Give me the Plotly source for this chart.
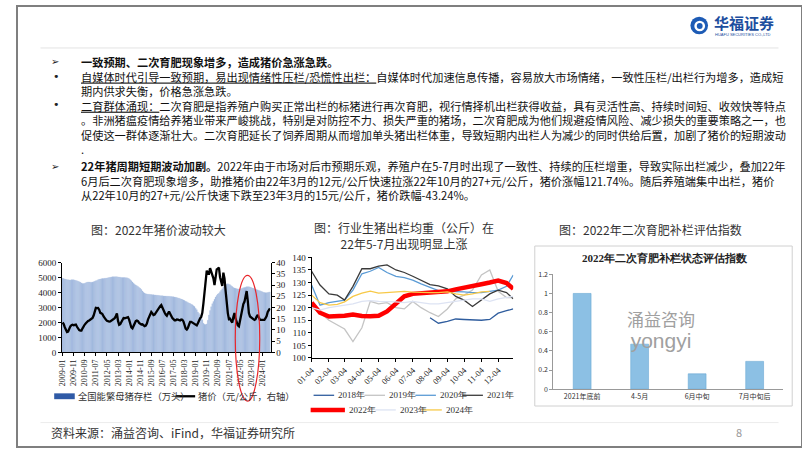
import plotly.graph_objects as go

W, H = 802, 452
def px(x): return x / W
def py(y): return 1 - y / H

# ---------------- Data: chart 1 (monthly 2009-01 .. 2024-08) ----------------
months = [f"{y}-{m:02d}" for y in range(2009, 2025) for m in range(1, 13)][:188]
sow_stock = [
    4950, 4930, 4900, 4880, 4860, 4850, 4840, 4840, 4850, 4860, 4850, 4830,
    4800, 4780, 4750, 4720, 4680, 4640, 4610, 4600, 4620, 4650, 4680, 4700,
    4700, 4690, 4690, 4700, 4720, 4750, 4780, 4810, 4850, 4880, 4900, 4920,
    4930, 4940, 4950, 4960, 4970, 4980, 5000, 5020, 5040, 5050, 5050, 5050,
    5060, 5050, 5040, 5030, 5020, 5010, 5000, 5000, 5000, 4990, 4980, 4960,
    4920, 4860, 4780, 4700, 4620, 4560, 4500, 4450, 4400, 4340, 4280, 4200,
    4100, 4020, 3960, 3920, 3900, 3890, 3880, 3870, 3860, 3850, 3850, 3840,
    3830, 3820, 3810, 3800, 3790, 3790, 3780, 3770, 3760, 3760, 3750, 3750,
    3750, 3740, 3730, 3720, 3710, 3700, 3680, 3660, 3640, 3620, 3590, 3560,
    3530, 3500, 3460, 3420, 3380, 3340, 3300, 3260, 3220, 3180, 3120, 3060,
    2950, 2850, 2700, 2600, 2480, 2330, 2180, 1950, 1880, 1860, 1900, 2150,
    2500, 2800, 3050, 3250, 3400, 3550, 3700, 3800, 3900, 3950, 4050, 4150,
    4250, 4380, 4450, 4500, 4550, 4580, 4560, 4520, 4460, 4400, 4330, 4300,
    4280, 4260, 4240, 4230, 4240, 4260, 4290, 4320, 4340, 4360, 4380, 4390,
    4390, 4370, 4340, 4310, 4280, 4250, 4230, 4200, 4170, 4140, 4110, 4080,
    4050, 4020, 4000, 3990, 3990, 4000, 4020, 4040,
]
hog_price = [
    13.3, 12.6, 11.2, 9.9, 9.1, 9.3, 10.6, 11.6, 12.1, 12.3, 12.1, 12.4,
    12.4, 11.4, 10.3, 9.9, 9.7, 9.7, 10.7, 11.8, 12.4, 13.0, 13.6, 14.0,
    14.2, 14.6, 15.0, 15.3, 16.4, 18.6, 19.8, 19.7, 19.8, 19.0, 17.6, 17.4,
    17.0, 16.0, 15.0, 14.6, 14.1, 13.8, 13.7, 13.8, 14.1, 14.4, 14.8, 15.2,
    16.2, 17.3, 14.0, 12.3, 12.6, 13.5, 14.5, 15.3, 15.2, 15.3, 15.5, 15.7,
    14.6, 12.6, 11.1, 10.7, 11.8, 13.2, 13.9, 14.2, 13.9, 13.1, 12.7, 12.4,
    12.5, 12.1, 11.7, 11.9, 12.8, 14.6, 15.9, 17.2, 18.0, 17.4, 16.6, 16.8,
    17.6, 18.6, 19.2, 19.9, 20.6, 21.1, 20.2, 19.0, 17.8, 16.8, 16.3, 17.3,
    18.2, 17.2, 16.0, 15.3, 14.8, 14.3, 14.3, 14.7, 14.6, 14.3, 14.2, 14.6,
    14.5, 13.8, 12.0, 10.6, 10.2, 10.9, 12.3, 13.6, 13.6, 13.3, 13.0, 12.8,
    12.4, 12.0, 13.0, 14.5, 15.2, 15.8, 17.6, 21.8, 28.0, 33.5, 36.4, 35.0,
    35.0, 37.5, 36.2, 34.5, 33.0, 30.0, 33.5, 37.0, 37.3, 37.8, 33.5, 31.0,
    29.6, 35.5, 33.0, 27.5, 21.5, 17.5, 14.8, 15.0, 14.0, 13.3, 15.8, 17.5,
    15.0, 13.1, 12.0, 11.6, 14.2, 17.0, 19.5, 21.5, 22.5, 25.0, 27.3, 23.0,
    17.5, 16.0, 15.5, 15.2, 14.8, 14.5, 14.8, 16.0, 16.7, 15.5, 14.5, 14.5,
    14.4, 14.3, 14.5, 15.2, 16.2, 18.0, 19.2, 19.6,
]
c1_ticks = ["2009-01", "2009-11", "2010-09", "2011-07", "2012-05", "2013-03", "2014-01",
            "2014-11", "2015-09", "2016-07", "2017-05", "2018-03", "2019-01", "2019-11",
            "2020-09", "2021-07", "2022-05", "2023-03", "2024-01"]

# ---------------- Data: chart 2 (average slaughter weight, kg) ----------------
days = [4, 19, 35, 50, 63, 78, 94, 109, 124, 139, 155, 170, 185, 200, 216, 231,
        247, 262, 277, 292, 308, 323, 338, 353, 365]
c2_tickvals = [4, 35, 63, 94, 124, 155, 185, 216, 247, 277, 308, 338]
c2_ticktext = ["01-04", "02-04", "03-04", "04-04", "05-04", "06-04", "07-04",
               "08-04", "09-04", "10-04", "11-04", "12-04"]
N = None
w2018 = [N, N, N, N, N, N, N, N, N, N, N, N, N, N,
         116.0, 113.8, 114.5, 115.5, 115.3, 115.2, 115.0, 115.3, 117.8, 118.8, 119.5]
w2019 = [120.0, 118.0, 115.0, 113.0, 111.5, 106.5, 112.0, 122.5, 121.5, 122.0, 120.0, 119.5,
         122.5, 120.0, 118.0, 116.5, 119.5, 123.5, 125.0, 127.0, 133.0, 135.0, 126.5, 124.0, 124.0]
w2020 = [129.0, 121.0, 122.0, 122.5, 123.0, 127.0, 133.5, 134.5, 136.0, 134.0, 132.5, 132.0,
         131.0, 129.5, 128.0, 126.8, 126.5, 126.5, 126.3, 126.0, 126.0, 126.5, 127.0, 128.5, 133.0]
w2021 = [134.5, 129.0, 125.5, 125.0, 123.0, 128.5, 135.5, 135.5, 136.5, 137.0, 135.0, 134.0,
         132.5, 131.0, 129.2, 128.7, 127.5, 124.5, 123.0, 120.5, 123.0, 125.5, 127.0, 126.0, 123.5]
w2022 = [122.0, 118.0, 116.5, 116.5, 116.8, 117.3, 116.7, 116.6, 116.8, 118.5, 121.5, 124.5,
         125.5, 125.8, 126.2, 126.5, 126.5, 127.3, 127.9, 128.3, 129.3, 130.0, 130.8, 129.8, 127.5]
w2023 = [120.0, 119.0, 120.0, 120.5, 121.0, 121.5, 122.5, 122.8, 122.5, 122.5, 122.3, 122.0,
         122.5, 122.0, 121.5, 121.5, 122.0, 122.5, 123.0, 123.5, 123.5, 122.5, 123.5, 124.0, 124.5]
w2024 = [125.0, 122.0, 121.0, 121.3, 122.3, 124.5, 125.8, 126.6, 125.8, 126.0, 126.3, 126.5,
         126.2, 126.0, 126.0, 126.0, 126.3, 125.5, 125.0, 125.5, 126.3, 126.5, N, N, N]
years2 = ["2018年", "2019年", "2020年", "2021年", "2022年", "2023年", "2024年"]
series2 = [w2018, w2019, w2020, w2021, w2022, w2023, w2024]
colors2 = ["#2f5d9e", "#c4c4c4", "#5b9bd5", "#3a3a3a", "#ff0000", "#dde3f3", "#f7c948"]
widths2 = [1.3, 1.3, 1.3, 1.3, 4.5, 1.3, 1.3]

# ---------------- Data: chart 3 ----------------
c3_cats = ["2021年底前", "4-5月", "6月中旬", "7月中旬后"]
c3_vals = [1.0, 0.47, 0.16, 0.29]

fig = go.Figure()

# chart 1
fig.add_trace(go.Bar(x=months, y=sow_stock,
                     marker=dict(color="#8eacd7", line=dict(color="#b9cbe7", width=0.35)),
                     xaxis="x", yaxis="y", name="全国能繁母猪存栏（万头）"))
fig.add_trace(go.Scatter(x=months, y=hog_price, mode="lines", line=dict(color="#000000", width=2.3),
                         xaxis="x", yaxis="y2", name="猪价（元/公斤，右轴）"))
# chart 2
for nm, s, c, wd in zip(years2, series2, colors2, widths2):
    fig.add_trace(go.Scatter(x=days, y=s, mode="lines", line=dict(color=c, width=wd),
                             xaxis="x2", yaxis="y3", name=nm, connectgaps=False))
# chart 3
fig.add_trace(go.Bar(x=c3_cats, y=c3_vals, marker=dict(color="#8cc0e4", line=dict(color="#6aa7d4", width=0.6)),
                     xaxis="x3", yaxis="y4", width=0.31))

serif = "Liberation Serif"
cjk = "Noto Sans CJK SC"
axis_common = dict(showgrid=False, zeroline=False, showline=True, linecolor="#000", linewidth=1,
                   ticks="outside", ticklen=3, tickcolor="#000")

fig.update_layout(
    width=W, height=H, autosize=False, margin=dict(l=0, r=0, t=0, b=0),
    paper_bgcolor="white", plot_bgcolor="white", showlegend=False, bargap=0.12,
    xaxis=dict(domain=[px(46), px(259)], type="category", range=[-0.5, 187.5],
               tickmode="array", tickvals=c1_ticks, ticktext=c1_ticks, tickangle=-90,
               tickfont=dict(family=serif, size=8, color="#222"), anchor="y", **axis_common),
    yaxis=dict(domain=[py(355), py(263)], range=[0, 6000], dtick=1000,
               tickfont=dict(family=serif, size=9, color="#222"), anchor="x", **axis_common),
    yaxis2=dict(overlaying="y", side="right", anchor="x", range=[0, 40], dtick=5,
                tickfont=dict(family=serif, size=9, color="#222"), **axis_common),
    xaxis2=dict(domain=[px(301), px(507)], range=[4, 365], tickmode="array",
                tickvals=c2_tickvals, ticktext=c2_ticktext, tickangle=-45,
                tickfont=dict(family=serif, size=8.5, color="#222"), anchor="y3", **axis_common),
    yaxis3=dict(domain=[py(360.7), py(257.7)], range=[100, 140], dtick=5,
                tickfont=dict(family=serif, size=9, color="#222"), anchor="x2", **axis_common),
    xaxis3=dict(domain=[px(548), px(783)], type="category", anchor="y4",
                tickfont=dict(family=cjk, size=7, color="#333"),
                showgrid=False, zeroline=False, showline=True, linecolor="#999", ticks=""),
    yaxis4=dict(domain=[py(392.7), py(275)], range=[0, 1.2], dtick=0.2, anchor="x3",
                tickfont=dict(family=cjk, size=7, color="#333"),
                showgrid=False, zeroline=False, showline=True, linecolor="#999",
                ticks="outside", ticklen=3, tickcolor="#999"),
)

shapes = []
ann = []

def text(x, y, s, size=11.2, color="#111", family=cjk, xanchor="left", yanchor="middle", align="left"):
    ann.append(dict(xref="paper", yref="paper", x=px(x), y=py(y), text=s, showarrow=False,
                    xanchor=xanchor, yanchor=yanchor, align=align,
                    font=dict(size=size, color=color, family=family)))

def hline(x0, x1, y, color, width=1, dash=None):
    shapes.append(dict(type="line", xref="paper", yref="paper", x0=px(x0), x1=px(x1), y0=py(y), y1=py(y),
                       line=dict(color=color, width=width, dash=dash)))

# page frame and dividers
shapes.append(dict(type="rect", xref="paper", yref="paper", x0=0, x1=1, y0=0, y1=1,
                   line=dict(color="#7f7f7f", width=2)))
hline(24, 778, 43, "#e3e3e3", 1)
hline(24, 778, 427, "#ececec", 1)

# logo
shapes.append(dict(type="circle", xref="paper", yref="paper", x0=px(688), x1=px(706), y0=py(29), y1=py(11),
                   fillcolor="#1d5bb5", line=dict(width=0)))
shapes.append(dict(type="circle", xref="paper", yref="paper", x0=px(692), x1=px(703), y0=py(26), y1=py(15),
                   fillcolor="white", line=dict(width=0)))
shapes.append(dict(type="circle", xref="paper", yref="paper", x0=px(694.5), x1=px(700.5), y0=py(23.5), y1=py(17.5),
                   fillcolor="#1d5bb5", line=dict(width=0)))
text(710, 17, "<b>华福证券</b>", size=15, color="#1d4e9e")
text(711, 29, "HUAFU SECURITIES CO.,LTD", size=4, color="#1d4e9e", family="Liberation Sans")

# body text (two blocks, lines joined with <br>)
U = "<span style='text-decoration:underline'>"
block_a = [
    "<b>一致预期、二次育肥现象增多，造成猪价急涨急跌。</b>",
    U + "自媒体时代引导一致预期，易出现情绪性压栏/恐慌性出栏：</span>自媒体时代加速信息传播，容易放大市场情绪，一致性压栏/出栏行为增多，造成短",
    "期内供求失衡，价格急涨急跌。",
    U + "二育群体涌现：</span>二次育肥是指养殖户购买正常出栏的标猪进行再次育肥，视行情择机出栏获得收益，具有灵活性高、持续时间短、收效快等特点",
    "。非洲猪瘟疫情给养猪业带来严峻挑战，特别是对防控不力、损失严重的猪场，二次育肥成为他们规避疫情风险、减少损失的重要策略之一，也",
    "促使这一群体逐渐壮大。二次育肥延长了饲养周期从而增加单头猪出栏体重，导致短期内出栏人为减少的同时供给后置，加剧了猪价的短期波动",
    ".",
]
block_b = [
    "<b>22年猪周期短期波动加剧。</b>2022年由于市场对后市预期乐观，养殖户在5-7月时出现了一致性、持续的压栏增重，导致实际出栏减少，叠加22年",
    "6月后二次育肥现象增多，助推猪价由22年3月的12元/公斤快速拉涨22年10月的27+元/公斤，猪价涨幅121.74%。随后养殖端集中出栏，猪价",
    "从22年10月的27+元/公斤快速下跌至23年3月的15元/公斤，猪价跌幅-43.24%。",
]
text(63, 101.5, "<br>".join(block_a))
text(63, 178.5, "<br>".join(block_b))
text(33, 57, "➢", size=10, family="DejaVu Sans", color="#222")
text(33, 164, "➢", size=10, family="DejaVu Sans", color="#222")
text(35, 72, "•", size=11, family="DejaVu Sans", color="#222")
text(35, 101, "•", size=11, family="DejaVu Sans", color="#222")

# chart titles
text(145, 229, "图：2022年猪价波动较大", size=12, color="#333", xanchor="center")
text(395, 235.5, "图：行业生猪出栏均重（公斤）在<br>22年5-7月出现明显上涨", size=12, color="#333",
     xanchor="center", align="center")
text(647, 229, "图：2022年二次育肥补栏评估指数", size=12, color="#333", xanchor="center")

# chart 1 legend
shapes.append(dict(type="rect", xref="paper", yref="paper", x0=px(38), x1=px(59), y0=py(403), y1=py(397),
                   fillcolor="#2f5aa6", line=dict(width=0)))
text(60, 400, "全国能繁母猪存栏（万头）", size=9.3, color="#333")
hline(162, 182, 400, "#000", 2.3)
text(183, 400, "猪价（元/公斤，右轴）", size=9.3, color="#333")

# red ellipse highlight
shapes.append(dict(type="circle", xref="paper", yref="paper", x0=px(223), x1=px(248), y0=py(405), y1=py(276),
                   line=dict(color="#e8262b", width=1.2)))

# chart 2 legend
leg_pos = [(303, 399), (355, 399), (407, 399), (455, 399), (300, 414), (366, 414), (413, 414)]
for (lx, ly), nm, c, wd in zip(leg_pos, years2, colors2, widths2):
    ln = 35 if nm == "2022年" else 21
    hline(lx, lx + ln, ly, c, wd)
    text(lx + ln + 2, ly, nm, size=9, color="#333", family=serif)

# chart 3 frame / title / watermark
shapes.append(dict(type="rect", xref="paper", yref="paper", x0=px(529), x1=px(792), y0=py(410), y1=py(246),
                   line=dict(color="#d0d0d0", width=1)))
text(662, 258, "<b>2022年二次育肥补栏状态评估指数</b>", size=11, color="#222", family=serif, xanchor="center")
text(658, 331, "涌益咨询<br><span style='font-family:Liberation Sans;font-size:21px'>yongyi</span>",
     size=17, color="#a0a0a0", xanchor="center", align="center")

# footer
text(33, 437, "资料来源：涌益咨询、iFind，华福证券研究所", size=12, color="#333")
text(738, 437, "8", size=11, color="#999", xanchor="center")

fig.update_layout(shapes=shapes, annotations=ann)
fig.write_html("out.html")
